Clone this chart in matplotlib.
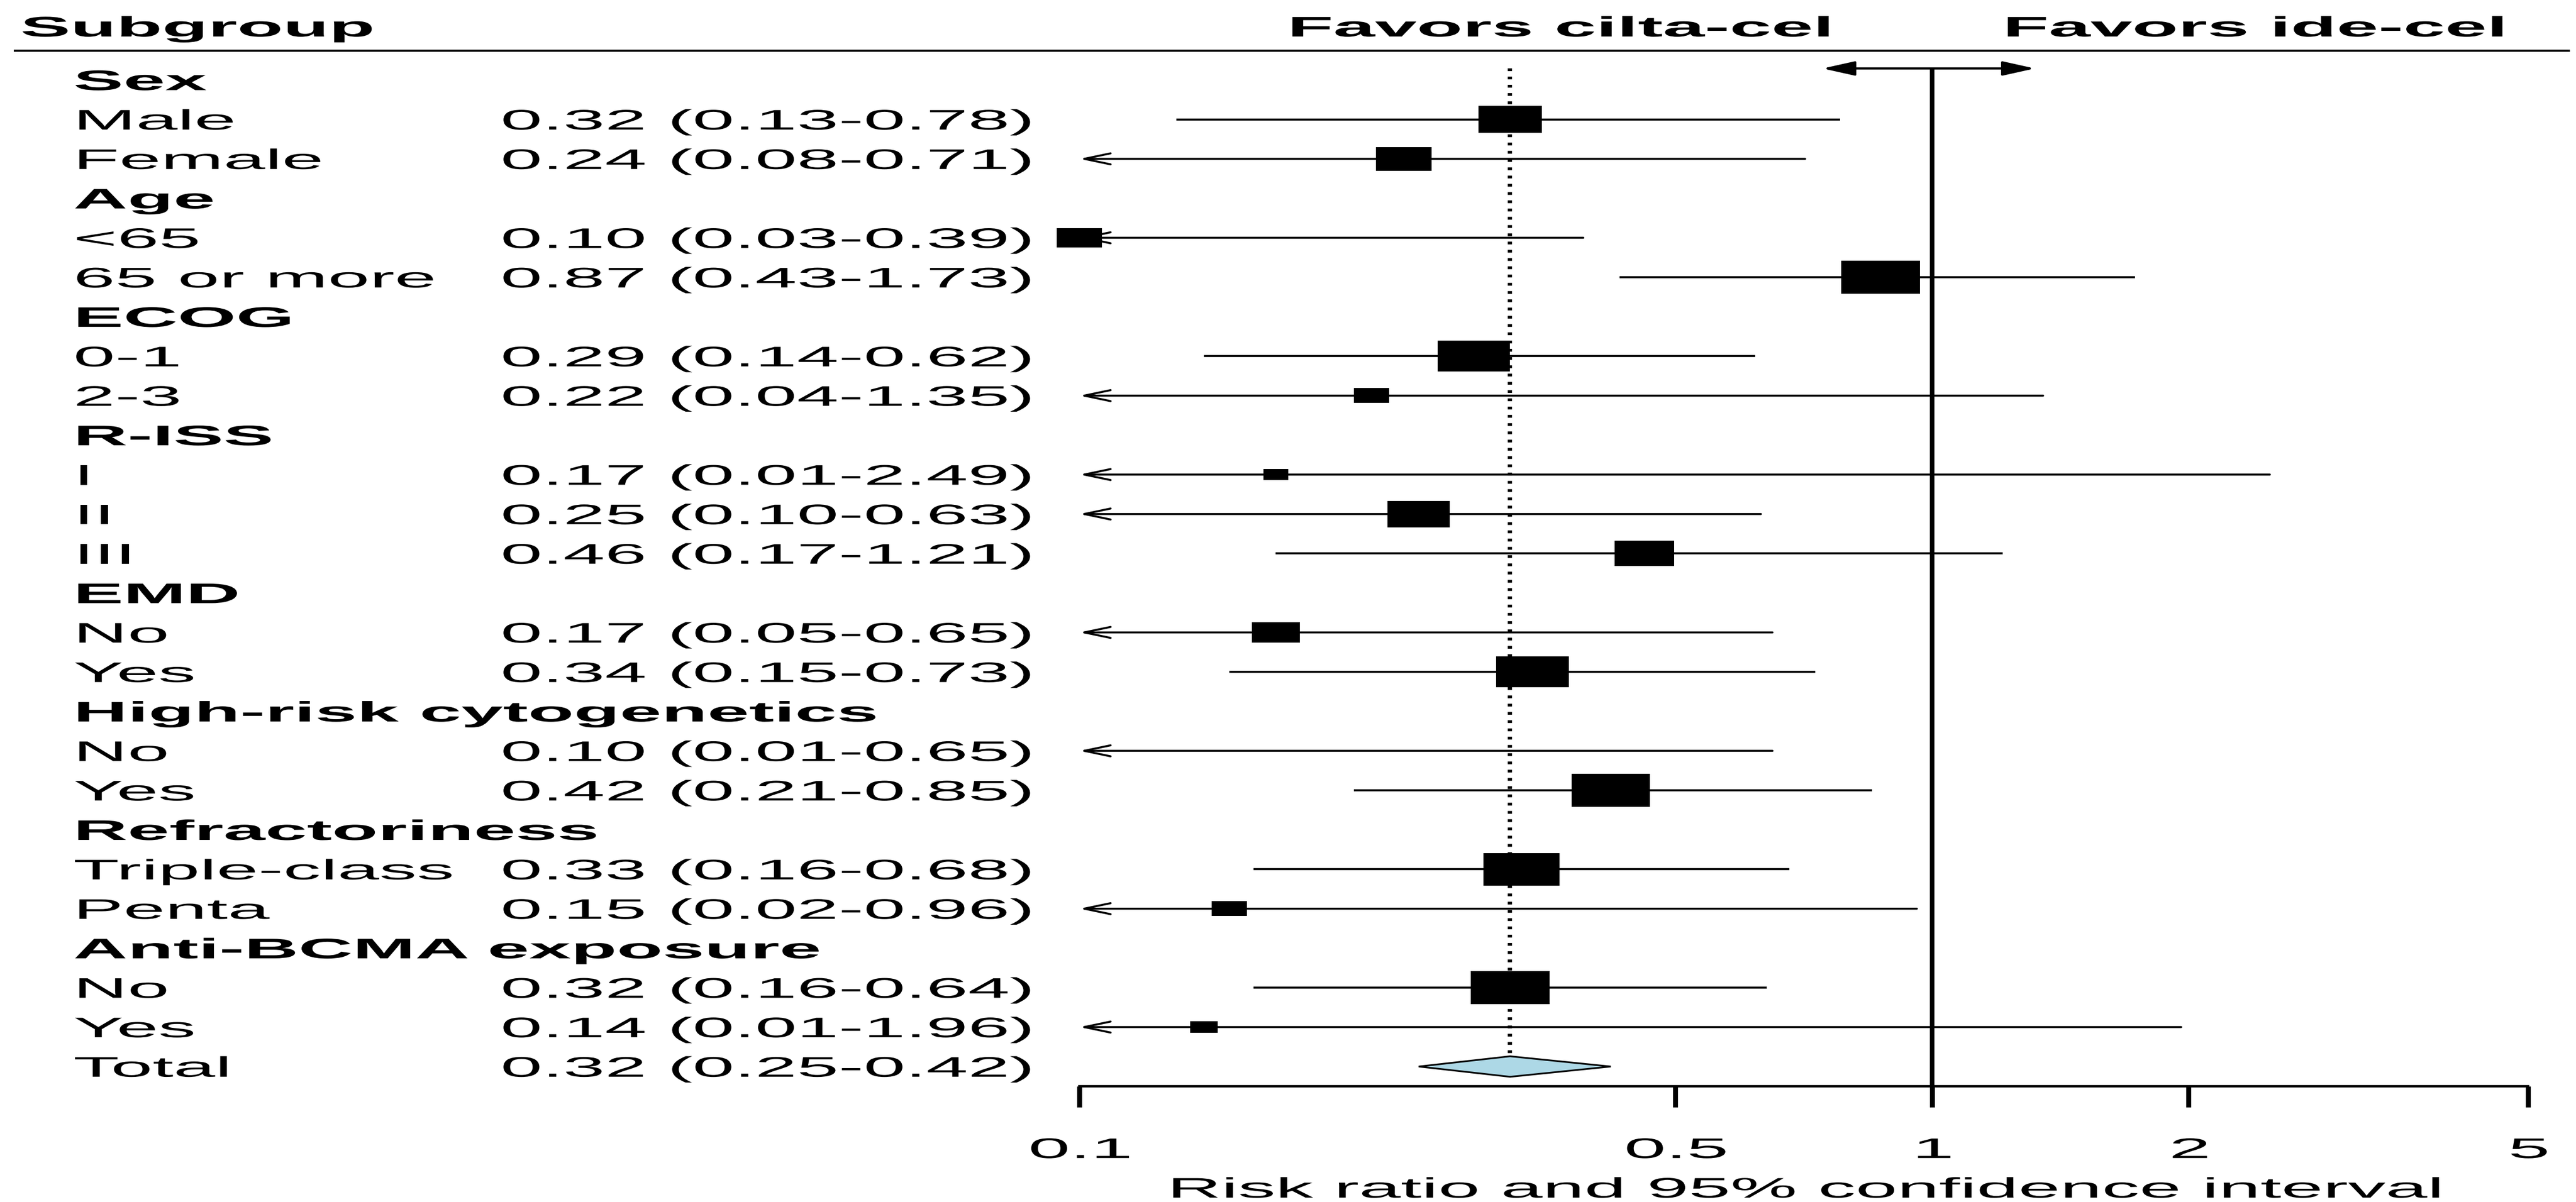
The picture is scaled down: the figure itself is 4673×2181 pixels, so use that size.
import matplotlib
matplotlib.use("Agg")
import matplotlib.pyplot as plt
import matplotlib.transforms as mtransforms
from matplotlib import patheffects
from matplotlib.patches import Rectangle, Polygon
from matplotlib.ticker import NullLocator

plt.rcParams['font.family'] = ['Liberation Sans', 'DejaVu Sans']

# rows of the forest plot (None = group heading)
labels = ["Sex", "Male", "Female", "Age", "<65", "65 or more", "ECOG", "0-1", "2-3",
          "R-ISS", "I", "II", "III", "EMD", "No", "Yes", "High-risk cytogenetics", "No", "Yes",
          "Refractoriness", "Triple-class", "Penta", "Anti-BCMA exposure", "No", "Yes"]
rr = [None, 0.32, 0.24, None, 0.10, 0.87, None, 0.29, 0.22, None, 0.17, 0.25, 0.46,
      None, 0.17, 0.34, None, 0.10, 0.42, None, 0.33, 0.15, None, 0.32, 0.14]
lower = [None, 0.13, 0.08, None, 0.03, 0.43, None, 0.14, 0.04, None, 0.01, 0.10, 0.17,
         None, 0.05, 0.15, None, 0.01, 0.21, None, 0.16, 0.02, None, 0.16, 0.01]
upper = [None, 0.78, 0.71, None, 0.39, 1.73, None, 0.62, 1.35, None, 2.49, 0.63, 1.21,
         None, 0.65, 0.73, None, 0.65, 0.85, None, 0.68, 0.96, None, 0.64, 1.96]
# box heights (in row units)
box_size = [0, 0.68, 0.60, 0, 0.49, 0.85, 0, 0.78, 0.38, 0, 0.27, 0.67, 0.64,
            0, 0.52, 0.78, 0, 0.0, 0.84, 0, 0.82, 0.38, 0, 0.85, 0.30]

total_label = "Total"
total_rr, total_lo, total_hi = 0.32, 0.25, 0.42

tick_vals = [0.1, 0.5, 1, 2, 5]
tick_text = ["0.1", "0.5", "1", "2", "5"]

W, H = 4673, 2181
STRETCH = 2.65
FS = 37
CI_LW = 2.6


class StretchText(patheffects.AbstractPathEffect):
    # widen glyphs horizontally, like the reference picture
    def __init__(self, factor, anchor="left"):
        super().__init__()
        self.factor = factor
        self.anchor = anchor

    def draw_path(self, renderer, gc, tpath, affine, rgbFace=None):
        x0 = 0.0
        if self.anchor == "center" and len(tpath.vertices):
            xs = tpath.vertices[:, 0]
            x0 = (xs.min() + xs.max()) / 2
        pre = mtransforms.Affine2D().translate(-x0, 0).scale(self.factor, 1).translate(x0, 0)
        renderer.draw_path(gc, tpath, pre + affine, rgbFace)


left_pe = [StretchText(STRETCH, "left")]
mid_pe = [StretchText(STRETCH, "center")]

fig = plt.figure(figsize=(W / 100, H / 100), dpi=100)
ax = fig.add_axes([1958 / W, (H - 1971) / H, (4586 - 1958) / W, 1971 / H])
ax.set_xscale("log")
ax.set_xlim(0.1, 5)
ax.set_ylim(25.5, -2.025)
trans = mtransforms.blended_transform_factory(fig.transFigure, ax.transData)

p0 = ax.transData.transform((0.1, 0))
p1 = ax.transData.transform((1, 1))
px_dec = p1[0] - p0[0]
px_row = abs(p1[1] - p0[1])

base = 0.258  # baseline offset so caps sit centred on the row

# header
ax.text(37 / W, -1.10, "Subgroup", transform=trans, fontsize=FS, fontweight="bold",
        va="baseline", path_effects=left_pe)
ax.text(2828 / W, -1.10, "Favors cilta-cel", transform=trans, fontsize=FS, fontweight="bold",
        va="baseline", ha="center", path_effects=mid_pe)
ax.text(4088 / W, -1.10, "Favors ide-cel", transform=trans, fontsize=FS, fontweight="bold",
        va="baseline", ha="center", path_effects=mid_pe)
ax.plot([25 / W, 4662 / W], [-0.74, -0.74], transform=trans, color="black", lw=2.8,
        clip_on=False, solid_capstyle="butt")

# reference lines
top = -0.29
ax.plot([1, 1], [top, 25.5], color="black", lw=6, clip_on=False, solid_capstyle="butt", zorder=2)
ax.plot([total_rr, total_rr], [top, 25], color="black", lw=5.5, linestyle=(0, (0.66, 1.3)),
        clip_on=False, zorder=2)
ax.annotate("", xy=(1.32, top), xytext=(0.744, top),
            arrowprops=dict(arrowstyle="<|-|>,head_length=36,head_width=8", mutation_scale=1,
                            lw=2.9, color="black", shrinkA=0, shrinkB=0),
            annotation_clip=False)

for i, lab in enumerate(labels):
    if rr[i] is None:
        ax.text(133 / W, i + base, lab, transform=trans, fontsize=FS, fontweight="bold",
                va="baseline", path_effects=left_pe)
        continue
    ax.text(133 / W, i + base, lab, transform=trans, fontsize=FS, va="baseline", path_effects=left_pe)
    ax.text(908 / W, i + base, f"{rr[i]:.2f} ({lower[i]:.2f}-{upper[i]:.2f})", transform=trans,
            fontsize=FS, va="baseline", path_effects=left_pe)
    if lower[i] <= 0.1:
        ax.annotate("", xy=(0.1, i), xytext=(upper[i], i),
                    arrowprops=dict(arrowstyle="->,head_length=34.5,head_width=7.2", mutation_scale=1,
                                    lw=CI_LW, color="black", shrinkA=0, shrinkB=0),
                    annotation_clip=False)
    else:
        ax.plot([lower[i], upper[i]], [i, i], color="black", lw=CI_LW, solid_capstyle="butt", zorder=2)
    h = box_size[i]
    if h > 0:
        hw = h * px_row * 2.35 / 2 / px_dec
        x0 = rr[i] / 10 ** hw
        ax.add_patch(Rectangle((x0, i - h / 2), rr[i] * 10 ** hw - x0, h, facecolor="black",
                               edgecolor="none", clip_on=False, zorder=3))

# total row
nt = len(labels)
ax.text(133 / W, nt + base, total_label, transform=trans, fontsize=FS, va="baseline", path_effects=left_pe)
ax.text(908 / W, nt + base, f"{total_rr:.2f} ({total_lo:.2f}-{total_hi:.2f})", transform=trans,
        fontsize=FS, va="baseline", path_effects=left_pe)
d = 0.26
ax.add_patch(Polygon([(total_lo, nt), (total_rr, nt - d), (total_hi, nt), (total_rr, nt + d)],
                     closed=True, facecolor="#add8e6", edgecolor="black", lw=2.2, zorder=4,
                     clip_on=False))

# axis
for s in ["top", "left", "right"]:
    ax.spines[s].set_visible(False)
ax.spines["bottom"].set_linewidth(3.2)
ax.set_yticks([])
ax.set_xticks(tick_vals)
ax.set_xticklabels(tick_text)
ax.xaxis.set_minor_locator(NullLocator())
ax.tick_params(axis="x", length=27.4, width=6.5, pad=39, labelsize=FS)
for t in ax.get_xticklabels():
    t.set_path_effects(mid_pe)
ax.set_xlabel("Risk ratio and 95% confidence interval", fontsize=FS)
ax.xaxis.set_label_coords(0.5, -0.1025)
ax.xaxis.label.set_va("baseline")
ax.xaxis.label.set_path_effects(mid_pe)

fig.savefig("out.png", dpi=100)
